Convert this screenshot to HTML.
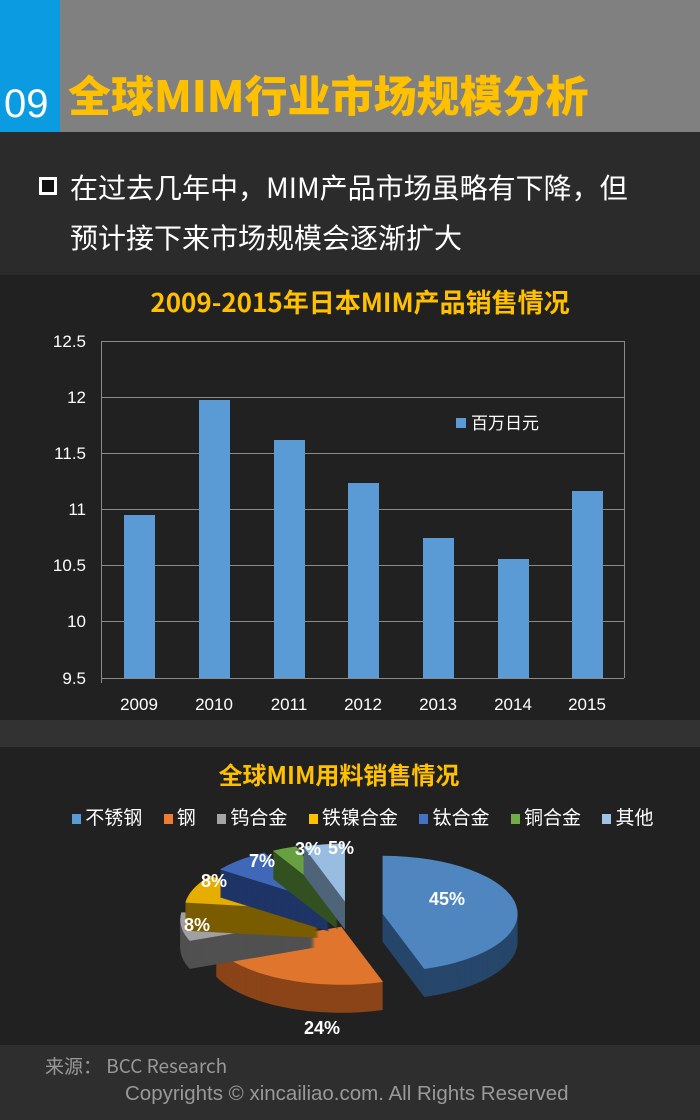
<!DOCTYPE html>
<html><head><meta charset="utf-8"><style>
body{margin:0;width:700px;height:1120px;background:#222;position:relative;overflow:hidden;font-family:"Liberation Sans","Noto Sans CJK SC",sans-serif}
div{position:absolute}
</style></head><body>
<div style="left:0;top:0;width:700px;height:132px;background:#808080"></div>
<div style="left:0;top:0;width:60px;height:132px;background:#0a9be0"></div>
<div style="left:4px;top:80px;color:#fff;font-size:40px;line-height:48px">09</div>
<div style="left:68px;top:66px;color:#ffc000;font-size:43px;font-weight:900;line-height:56px;font-family:'Noto Sans CJK SC',sans-serif;white-space:nowrap">全球MIM行业市场规模分析</div>
<div style="left:0;top:132px;width:700px;height:143px;background:#2b2b2b"></div>
<div style="left:39px;top:177px;width:12px;height:12px;border:3px solid #fff;background:#111"></div>
<div style="left:70px;top:162px;color:#fff;font-size:28px;line-height:50px;font-family:'Noto Sans CJK SC',sans-serif;white-space:nowrap">在过去几年中，MIM产品市场虽略有下降，但<br>预计接下来市场规模会逐渐扩大</div>
<div style="left:0;top:275px;width:700px;height:445px;background:#212121"></div>
<div style="left:0;top:720px;width:700px;height:27px;background:#323232"></div>
<div style="left:0;top:747px;width:700px;height:298px;background:#212121"></div>
<div style="left:0;top:1045px;width:700px;height:75px;background:#2e2e2e"></div>
<div style="left:0;top:283px;width:720px;text-align:center;color:#ffc000;font-size:26px;font-weight:bold;font-family:'Noto Sans CJK SC',sans-serif">2009-2015年日本MIM产品销售情况</div>
<svg style="position:absolute;left:0;top:0" width="700" height="1120" id="s">
<g stroke="#8a8a8a" stroke-width="1">
<line x1="101" y1="341.5" x2="624" y2="341.5"/><line x1="101" y1="397.5" x2="624" y2="397.5"/><line x1="101" y1="453.5" x2="624" y2="453.5"/><line x1="101" y1="509.5" x2="624" y2="509.5"/><line x1="101" y1="565.5" x2="624" y2="565.5"/><line x1="101" y1="621.5" x2="624" y2="621.5"/><line x1="101" y1="678.5" x2="624" y2="678.5"/>
<line x1="101.5" y1="341" x2="101.5" y2="683"/><line x1="624.5" y1="341" x2="624.5" y2="678"/>
</g>
<g fill="#5b9bd5">
<rect x="124" y="515" width="31" height="163"/><rect x="199" y="400" width="31" height="278"/><rect x="274" y="440" width="31" height="238"/><rect x="348" y="483" width="31" height="195"/><rect x="423" y="538" width="31" height="140"/><rect x="498" y="559" width="31" height="119"/><rect x="572" y="491" width="31" height="187"/>
<rect x="456" y="418" width="10" height="10"/></g>
<g fill="#fff" font-size="17" text-anchor="end" font-family="Liberation Sans,sans-serif">
<text x="86" y="347">12.5</text><text x="86" y="403">12</text><text x="86" y="459">11.5</text><text x="86" y="515">11</text><text x="86" y="571">10.5</text><text x="86" y="627">10</text><text x="86" y="684">9.5</text></g>
<g fill="#fff" font-size="17" text-anchor="middle" font-family="Liberation Sans,sans-serif">
<text x="139" y="710">2009</text><text x="214" y="710">2010</text><text x="289" y="710">2011</text><text x="363" y="710">2012</text><text x="438" y="710">2013</text><text x="513" y="710">2014</text><text x="587" y="710">2015</text></g>
<text x="471" y="429" fill="#fff" font-size="17" font-family="Noto Sans CJK SC,sans-serif">百万日元</text>
<text x="339" y="784" fill="#ffc000" font-size="24" font-weight="bold" text-anchor="middle" font-family="Noto Sans CJK SC,sans-serif">全球MIM用料销售情况</text>
<g id="pie"></g>
<g fill="#fff" font-size="18" font-weight="bold" text-anchor="middle" font-family="Liberation Sans,sans-serif">
<text x="447" y="905">45%</text><text x="322" y="1034">24%</text><text x="197" y="931">8%</text><text x="214" y="887">8%</text><text x="262" y="867">7%</text><text x="308" y="855">3%</text><text x="341" y="854">5%</text></g>
</svg>
<div style="left:72px;top:804px;color:#fff;font-size:19px;font-family:'Noto Sans CJK SC',sans-serif;white-space:nowrap;line-height:26px">
<span style="display:inline-block;width:9px;height:10px;background:#5b9bd5"></span> 不锈钢&nbsp;&nbsp;&nbsp;&nbsp;&nbsp;<span style="display:inline-block;width:9px;height:10px;background:#ed7d31"></span> 钢&nbsp;&nbsp;&nbsp;&nbsp;&nbsp;<span style="display:inline-block;width:9px;height:10px;background:#a5a5a5"></span> 钨合金&nbsp;&nbsp;&nbsp;&nbsp;&nbsp;<span style="display:inline-block;width:9px;height:10px;background:#ffc000"></span> 铁镍合金&nbsp;&nbsp;&nbsp;&nbsp;&nbsp;<span style="display:inline-block;width:9px;height:10px;background:#4472c4"></span> 钛合金&nbsp;&nbsp;&nbsp;&nbsp;&nbsp;<span style="display:inline-block;width:9px;height:10px;background:#70ad47"></span> 铜合金&nbsp;&nbsp;&nbsp;&nbsp;&nbsp;<span style="display:inline-block;width:9px;height:10px;background:#9dc3e6"></span> 其他</div>
<div style="left:45px;top:1052px;color:#999;font-size:19px;font-family:'Noto Sans CJK SC',sans-serif">来源： BCC Research</div>
<div style="left:125px;top:1082px;color:#999;font-size:20.5px;white-space:nowrap">Copyrights © xincailiao.com. All Rights Reserved</div>
<script>
var cx=349,cy=917,rx=135,ry=58,d=28;
var sl=[[0,162,'#4f86c0','#26466a',34],[162,248.4,'#e0752e','#8a4418',18],[248.4,277.2,'#a0a0a0','#505050',34],[277.2,306,'#e5ae00','#7a5c00',32],[306,331.2,'#4068b8','#1f3566',30],[331.2,342,'#66a040','#335020',28],[342,360,'#98bde0','#4f6478',26]];
function P(a,x,y){var r=a*Math.PI/180;return [x+rx*Math.sin(r),y-ry*Math.cos(r)];}
function path(a0,a1,x,y){var p0=P(a0,x,y),p1=P(a1,x,y),l=(a1-a0)>180?1:0;
return 'M'+x+','+y+'L'+p0[0]+','+p0[1]+'A'+rx+','+ry+' 0 '+l+' 1 '+p1[0]+','+p1[1]+'Z';}
var h='';
sl.forEach(function(s){var m=(s[0]+s[1])/2*Math.PI/180;var x=cx+s[4]*Math.sin(m),y=cy-s[4]*0.6*Math.cos(m);
for(var k=d;k>0;k-=1)h+='<path d="'+path(s[0],s[1],x,y+k)+'" fill="'+s[3]+'"/>';
h+='<path d="'+path(s[0],s[1],x,y)+'" fill="'+s[2]+'"/>';});
document.getElementById('pie').innerHTML=h;
</script>
</body></html>
